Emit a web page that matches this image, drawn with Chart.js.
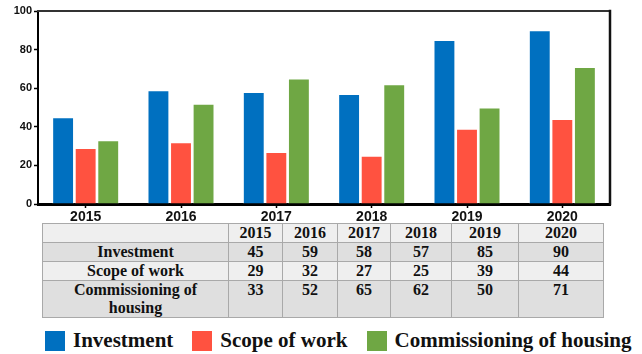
<!DOCTYPE html>
<html>
<head>
<meta charset="utf-8">
<script src="https://cdn.jsdelivr.net/npm/chart.js@4/dist/chart.umd.min.js"></script>
<style>
  body {
    margin: 0;
    width: 642px;
    height: 354px;
    background: #fff;
    position: relative;
    overflow: hidden;
  }

  #chartBox {
    position: absolute;
    left: 0;
    top: 0;
    width: 642px;
    height: 222px;
  }

  #dataTable {
    position: absolute;
    left: 42px;
    top: 223px;
    border-collapse: collapse;
    table-layout: fixed;
    font-family: "Liberation Serif", "Times New Roman", serif;
    font-weight: bold;
    font-size: 16px;
    color: #111;
  }

  #dataTable td {
    border: 1.5px solid #a9a9a9;
    text-align: center;
    vertical-align: top;
    padding: 0;
    line-height: 18px;
    height: 18px;
  }

  #dataTable tr.light td { background: #efefef; }
  #dataTable tr.dark td { background: #dfdfdf; }

  #dataTable td.name { padding: 0 26px; }

  #legend {
    position: absolute;
    left: 45px;
    top: 328px;
    width: 600px;
    display: flex;
    align-items: center;
    white-space: nowrap;
    font-family: "Liberation Serif", "Times New Roman", serif;
    font-weight: bold;
    font-size: 21px;
    color: #111;
  }

  .legend-item {
    display: flex;
    align-items: center;
    flex-shrink: 0;
    margin-right: 19px;
  }

  .legend-box {
    width: 20px;
    height: 20px;
    flex-shrink: 0;
    margin-right: 8px;
  }
</style>
</head>
<body>

<div id="chartBox">
  <canvas id="barChart" width="642" height="222"></canvas>
</div>

<table id="dataTable"></table>

<div id="legend"></div>

<script>
// =====================================================
// DATA
// =====================================================

const years = ["2015", "2016", "2017", "2018", "2019", "2020"];

const investment = [45, 59, 58, 57, 85, 90];
const scopeOfWork = [29, 32, 27, 25, 39, 44];
const commissioning = [33, 52, 65, 62, 50, 71];

const seriesNames = [
  "Investment",
  "Scope of work",
  "Commissioning of housing"
];

const seriesColors = ["#0070c0", "#ff5240", "#6fa744"];

const yTicks = [0, 20, 40, 60, 80, 100];

// table column widths (label column first)
const colWidths = [186, 54, 55, 53, 61, 67, 85];

// =====================================================
// CHART
// =====================================================

// top and right edges of the frame
const framePlugin = {
  id: "frame",
  afterDraw(chart) {
    const { ctx, chartArea } = chart;
    ctx.save();
    ctx.lineCap = "square";
    ctx.strokeStyle = "#333";
    ctx.lineWidth = 2;
    ctx.beginPath();
    ctx.moveTo(chartArea.left, chartArea.top);
    ctx.lineTo(chartArea.right, chartArea.top);
    ctx.stroke();
    ctx.strokeStyle = "#111";
    ctx.lineWidth = 2.5;
    ctx.beginPath();
    ctx.moveTo(chartArea.right, chartArea.top);
    ctx.lineTo(chartArea.right, chartArea.bottom);
    ctx.stroke();
    ctx.restore();
  }
};

const seriesValues = [investment, scopeOfWork, commissioning];

const barChart = new Chart(
  document.getElementById("barChart"),
  {
    type: "bar",
    data: {
      labels: years,
      datasets: seriesValues.map((values, i) => ({
        label: seriesNames[i],
        data: values,
        backgroundColor: seriesColors[i],
        borderColor: "rgba(255,255,255,0.55)",
        borderWidth: 1,
        categoryPercentage: 0.71,
        barPercentage: 0.97
      }))
    },
    options: {
      responsive: false,
      animation: false,
      devicePixelRatio: 1,
      layout: {
        padding: { left: 0, right: 32, top: 11, bottom: 0 }
      },
      plugins: {
        legend: { display: false },
        tooltip: { enabled: false }
      },
      scales: {
        x: {
          afterFit(scale) {
            scale.height = 18;
          },
          grid: {
            display: true,
            drawOnChartArea: false,
            offset: false,
            tickLength: 4,
            tickWidth: 1.5,
            color: "#000"
          },
          border: {
            display: true,
            color: "#000",
            width: 3
          },
          ticks: {
            padding: 1,
            color: "#111",
            font: {
              family: "'Liberation Sans', Arial, sans-serif",
              size: 14,
              weight: "bold"
            }
          }
        },
        y: {
          min: 0,
          max: 100,
          afterFit(scale) {
            scale.width = 38;
          },
          afterBuildTicks(scale) {
            scale.ticks = yTicks.map(v => ({ value: v }));
          },
          grid: {
            display: true,
            drawOnChartArea: false,
            tickLength: 4,
            tickWidth: 1.5,
            color: "#000"
          },
          border: {
            display: true,
            color: "#000",
            width: 2
          },
          ticks: {
            padding: 2,
            color: "#111",
            font: {
              family: "'Liberation Sans', Arial, sans-serif",
              size: 11,
              weight: "bold"
            }
          }
        }
      }
    },
    plugins: [framePlugin]
  }
);

// =====================================================
// TABLE
// =====================================================

const table = document.getElementById("dataTable");

const colgroup = document.createElement("colgroup");
colWidths.forEach(w => {
  const col = document.createElement("col");
  col.style.width = w + "px";
  colgroup.appendChild(col);
});
table.appendChild(colgroup);

const headRow = document.createElement("tr");
headRow.className = "light";
headRow.innerHTML =
  "<td></td>" + years.map(y => `<td>${y}</td>`).join("");
table.appendChild(headRow);

seriesValues.forEach((values, i) => {
  const row = document.createElement("tr");
  row.className = i % 2 === 0 ? "dark" : "light";
  row.innerHTML =
    `<td class="name">${seriesNames[i]}</td>` +
    values.map(v => `<td>${v}</td>`).join("");
  table.appendChild(row);
});

// =====================================================
// LEGEND
// =====================================================

const legend = document.getElementById("legend");

seriesNames.forEach((name, i) => {
  const item = document.createElement("div");
  item.className = "legend-item";
  item.innerHTML =
    `<div class="legend-box" style="background:${seriesColors[i]}"></div>` +
    `<span>${name}</span>`;
  legend.appendChild(item);
});
</script>
</body>
</html>
